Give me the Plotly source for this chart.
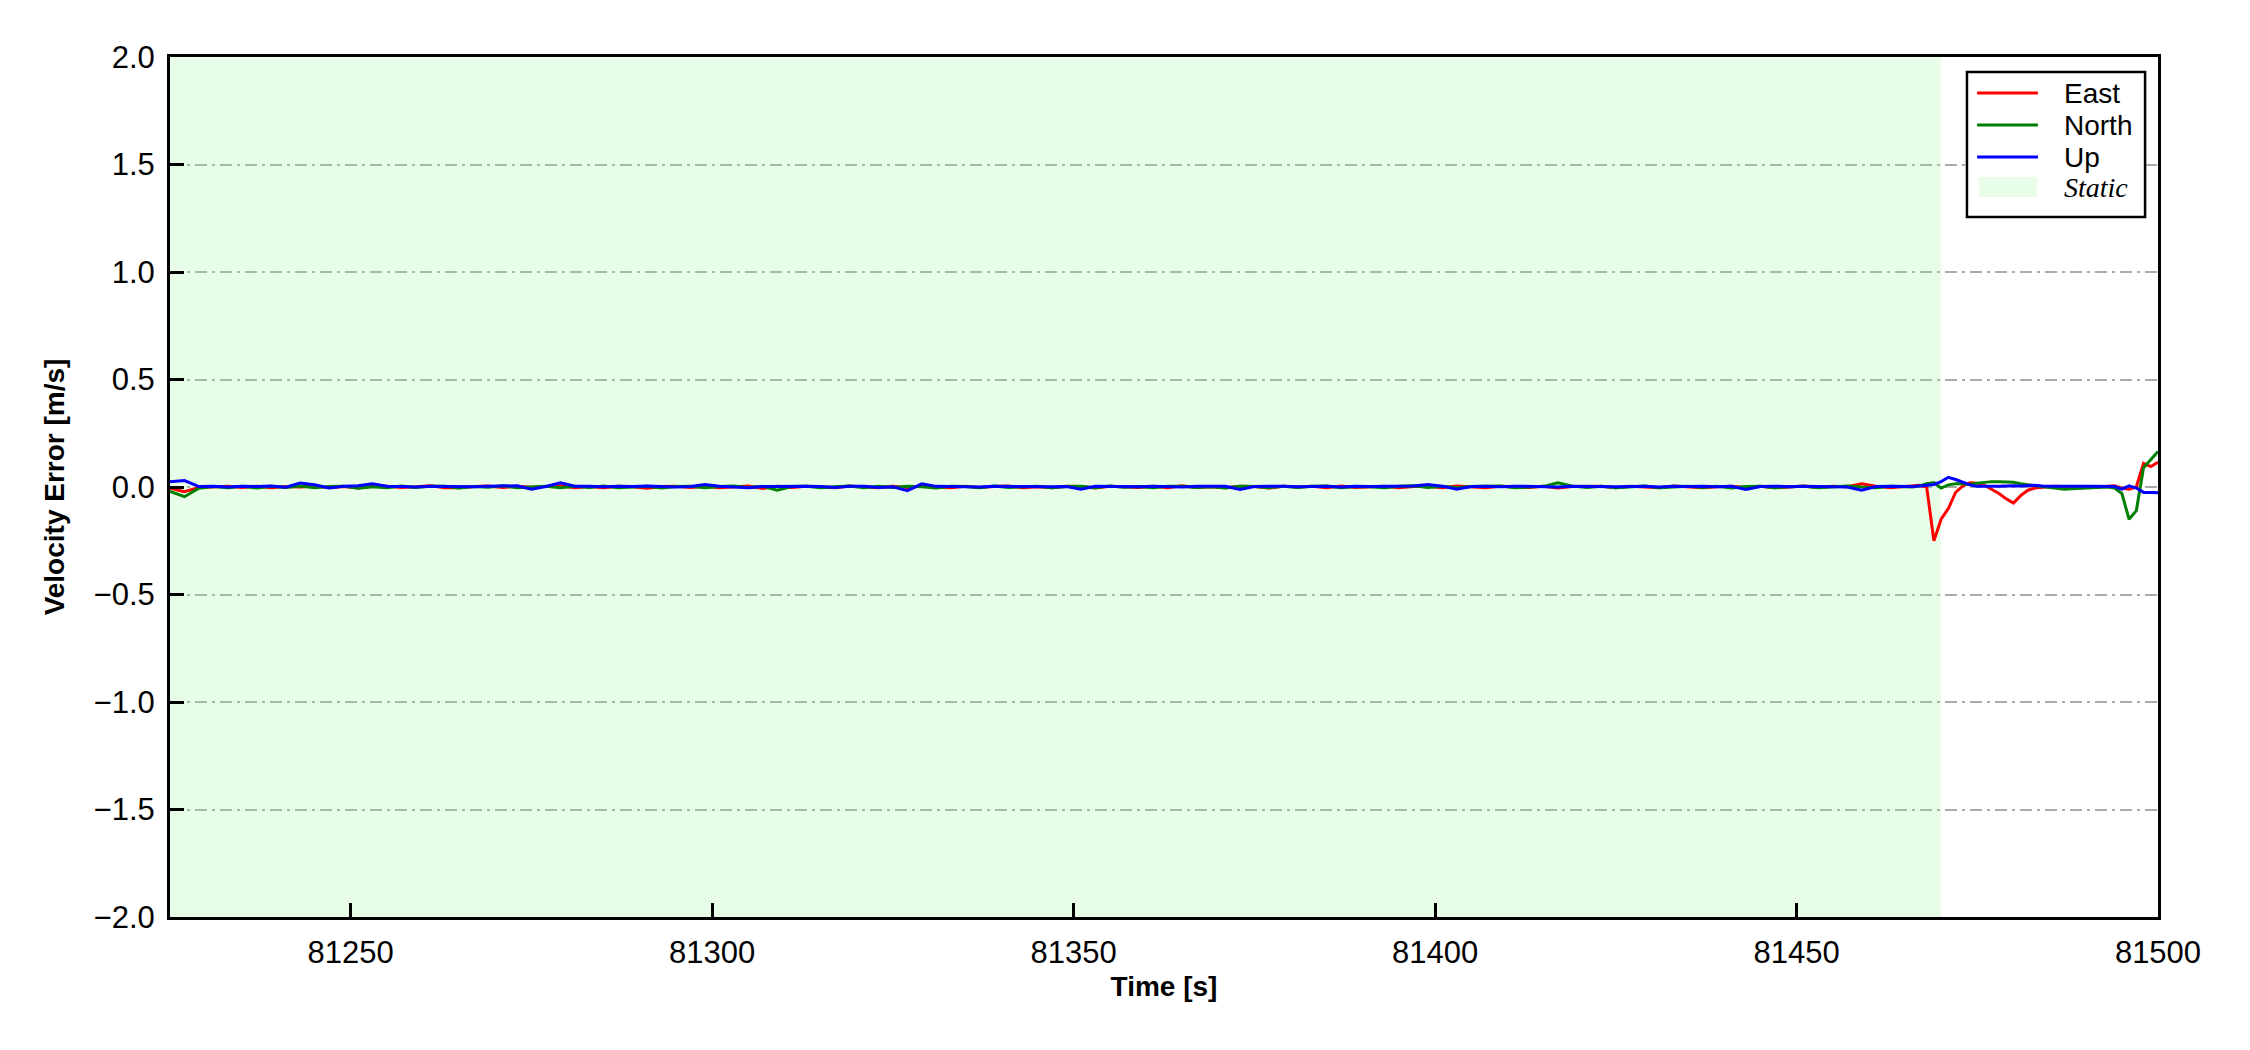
import plotly.graph_objects as go

# time stamps [s]: 2 s spacing over the quiet part, 1 s spacing at the end
time_coarse = list(range(81225, 81467, 2))
time_fine = list(range(81466, 81501))
time_s = time_coarse + time_fine

# velocity errors [m/s], quiet part (one value per 2 s)
east_coarse = [
    -0.005, -0.022, -0.002, 0.000, 0.003, -0.002, 0.004, -0.003, 0.002, 0.000,
    0.005, -0.004, 0.002, -0.005, 0.003, 0.004, -0.002, 0.001, 0.006, -0.003,
    -0.004, 0.002, 0.005, -0.002, 0.003, -0.001, 0.004, 0.006, -0.003, 0.002,
    -0.004, 0.003, 0.001, -0.006, 0.002, 0.004, -0.002, 0.003, -0.004, 0.000,
    0.005, -0.007, 0.003, -0.002, 0.004, 0.001, -0.003, 0.005, 0.002, -0.004,
    0.003, -0.002, 0.005, 0.001, -0.003, 0.004, -0.002, 0.002, 0.005, -0.004,
    0.001, -0.003, 0.004, 0.002, -0.005, 0.003, 0.000, -0.002, 0.004, -0.003,
    0.006, -0.002, 0.001, -0.004, 0.003, 0.002, -0.005, 0.004, 0.000, 0.003,
    -0.003, 0.005, -0.002, 0.001, 0.004, -0.004, 0.002, 0.003, -0.003, 0.005,
    0.000, -0.004, 0.003, 0.002, -0.002, 0.004, -0.005, 0.002, 0.001, 0.003,
    -0.003, 0.004, 0.000, -0.004, 0.005, 0.002, -0.003, 0.001, 0.004, -0.002,
    0.003, -0.004, 0.002, 0.005, -0.002, 0.003, 0.001, 0.015, 0.004, -0.003,
    0.002,
]
north_coarse = [
    -0.020, -0.045, -0.006, 0.002, -0.003, 0.004, -0.005, 0.003, -0.002, 0.005,
    -0.004, 0.002, 0.004, -0.006, 0.001, -0.003, 0.005, -0.002, 0.003, 0.004,
    -0.005, 0.002, -0.001, 0.006, -0.003, 0.002, 0.004, -0.004, 0.003, -0.002,
    0.005, -0.003, 0.001, 0.004, -0.005, 0.002, 0.003, -0.004, 0.002, 0.005,
    -0.002, 0.003, -0.015, 0.002, 0.004, -0.003, 0.001, 0.005, -0.004, 0.003,
    -0.002, 0.004, 0.001, -0.005, 0.003, 0.002, -0.003, 0.005, -0.002, 0.001,
    0.004, -0.004, 0.002, 0.003, -0.003, 0.005, -0.001, 0.002, -0.004, 0.003,
    0.004, -0.002, 0.001, -0.005, 0.003, 0.002, -0.003, 0.004, -0.002, 0.003,
    0.005, -0.004, 0.002, 0.001, -0.003, 0.004, 0.006, -0.002, 0.003, -0.004,
    0.002, 0.004, 0.005, -0.003, 0.001, 0.003, 0.020, 0.004, -0.002, 0.003,
    -0.004, 0.002, 0.005, -0.003, 0.001, 0.004, -0.002, 0.003, -0.005, 0.002,
    0.004, -0.003, 0.001, 0.003, -0.004, 0.002, 0.005, 0.000, -0.003, 0.004,
    0.001,
]
up_coarse = [
    0.025, 0.030, 0.002, 0.003, 0.000, 0.004, 0.002, 0.005, -0.001, 0.018,
    0.010, -0.005, 0.003, 0.006, 0.015, 0.004, 0.002, 0.000, 0.003, 0.002,
    0.004, 0.001, 0.003, 0.005, 0.006, -0.010, 0.002, 0.020, 0.004, 0.003,
    0.001, 0.004, 0.002, 0.005, 0.003, 0.000, 0.002, 0.012, 0.004, 0.000,
    -0.004, 0.002, 0.003, 0.001, 0.004, 0.002, -0.002, 0.003, 0.004, -0.002,
    0.001, -0.017, 0.015, 0.003, 0.002, 0.004, 0.000, 0.003, 0.002, 0.004,
    0.003, 0.001, 0.002, -0.010, 0.003, 0.002, 0.004, 0.001, 0.003, 0.002,
    0.000, 0.004, 0.002, 0.003, -0.012, 0.002, 0.003, 0.004, 0.001, 0.002,
    0.003, 0.000, 0.004, 0.002, 0.003, 0.001, 0.005, 0.012, 0.004, -0.010,
    0.002, 0.003, 0.001, 0.004, 0.002, 0.003, 0.000, 0.004, 0.002, 0.003,
    0.001, 0.002, 0.004, 0.000, 0.003, 0.002, 0.004, 0.001, 0.003, -0.012,
    0.002, 0.004, 0.001, 0.003, 0.002, 0.004, 0.000, -0.015, 0.002, 0.003,
    0.002,
]

# velocity errors [m/s], 81466 .. 81500 (one value per second)
east_fine = [
    0.005, 0.008, 0.000, -0.250, -0.150, -0.100, -0.025, 0.005, 0.020, 0.018,
    0.008, -0.010, -0.030, -0.055, -0.075, -0.040, -0.015, -0.005, 0.000, 0.002,
    0.004, 0.002, 0.000, 0.002, 0.003, 0.002, 0.001, 0.004, 0.006, -0.005,
    -0.010, 0.000, 0.110, 0.095, 0.115,
]
north_fine = [
    0.000, 0.005, 0.015, 0.020, -0.005, 0.010, 0.015, 0.015, 0.012, 0.018,
    0.022, 0.025, 0.025, 0.024, 0.022, 0.015, 0.010, 0.005, 0.000, -0.002,
    -0.006, -0.010, -0.008, -0.006, -0.004, -0.003, -0.002, 0.000, -0.005, -0.030,
    -0.150, -0.110, 0.090, 0.130, 0.165,
]
up_fine = [
    0.002, 0.005, 0.010, 0.012, 0.025, 0.045, 0.035, 0.022, 0.010, 0.003,
    0.002, 0.003, 0.004, 0.006, 0.006, 0.005, 0.006, 0.008, 0.005, 0.003,
    0.004, 0.003, 0.004, 0.005, 0.004, 0.003, 0.002, 0.000, 0.002, -0.010,
    0.005, -0.005, -0.025, -0.025, -0.027,
]

east = east_coarse + east_fine
north = north_coarse + north_fine
up = up_coarse + up_fine

static_span = [81225, 81470]
y_range = [-2.0, 2.0]
x_ticks = [81250, 81300, 81350, 81400, 81450, 81500]
y_ticks = [-2.0, -1.5, -1.0, -0.5, 0.0, 0.5, 1.0, 1.5, 2.0]

FONT = "Liberation Sans, Arial, sans-serif"
SERIF = "Liberation Serif, Times New Roman, serif"
STATIC_FILL = "rgba(150,245,150,0.22)"

series = [("East", east, "#ff0000"), ("North", north, "#008000"), ("Up", up, "#0000ff")]

fig = go.Figure()

# static period shading
fig.add_trace(go.Scatter(
    x=[static_span[0], static_span[0], static_span[1], static_span[1]],
    y=[y_range[0], y_range[1], y_range[1], y_range[0]],
    fill="toself", fillcolor=STATIC_FILL,
    line=dict(width=0), mode="lines", name="Static", hoverinfo="skip",
))

for name, vals, color in series:
    fig.add_trace(go.Scatter(
        x=time_s, y=vals, mode="lines", name=name,
        line=dict(color=color, width=3),
    ))

# legend box drawn by hand (matplotlib-like compact rows)
fig.add_shape(type="rect", xref="paper", yref="paper",
              x0=0.9039, x1=0.9935, y0=0.8140, y1=0.9826,
              line=dict(color="black", width=2.5), fillcolor="white", layer="above")
row_y = [0.9581, 0.9209, 0.8837]
for (name, _, color), yy in zip(series, row_y):
    fig.add_shape(type="line", xref="paper", yref="paper",
                  x0=0.9090, x1=0.9396, y0=yy, y1=yy,
                  line=dict(color=color, width=3), layer="above")
    fig.add_annotation(text=name, xref="paper", yref="paper", x=0.9517, y=yy,
                       xanchor="left", yanchor="middle", showarrow=False,
                       font=dict(size=28, family=FONT))
fig.add_shape(type="rect", xref="paper", yref="paper",
              x0=0.9099, x1=0.9391, y0=0.8372, y1=0.8605,
              line=dict(width=0), fillcolor=STATIC_FILL, layer="above")
fig.add_annotation(text="<i>Static</i>", xref="paper", yref="paper", x=0.9517, y=0.8488,
                   xanchor="left", yanchor="middle", showarrow=False,
                   font=dict(size=28, family=SERIF))

# page body adds 8 px around the figure, so the figure is 16 px smaller
fig.update_layout(
    width=2242, height=1042,
    margin=dict(l=162, r=92, t=49, b=133),
    paper_bgcolor="white", plot_bgcolor="white",
    font=dict(family=FONT, size=31, color="black"),
    showlegend=False,
)

fig.update_xaxes(
    range=[81225, 81500], tickvals=x_ticks, tickformat="d",
    showgrid=False, zeroline=False,
    showline=True, linecolor="black", linewidth=3, mirror=True,
    ticks="inside", ticklen=14, tickwidth=2.5, tickcolor="black",
    ticklabelstandoff=6,
    title=dict(text="<b>Time [s]</b>", font=dict(size=28), standoff=8),
)
fig.update_yaxes(
    range=y_range, tickvals=y_ticks, tickformat=".1f",
    showgrid=True, gridcolor="#aaaaaa", gridwidth=2,
    griddash="12px,5px,3px,5px", zeroline=False,
    showline=True, linecolor="black", linewidth=3, mirror=True,
    ticks="inside", ticklen=14, tickwidth=2.5, tickcolor="black",
    ticklabelstandoff=6,
    title=dict(text="<b>Velocity Error [m/s]</b>", font=dict(size=28), standoff=21),
)

fig.write_html("out.html")
